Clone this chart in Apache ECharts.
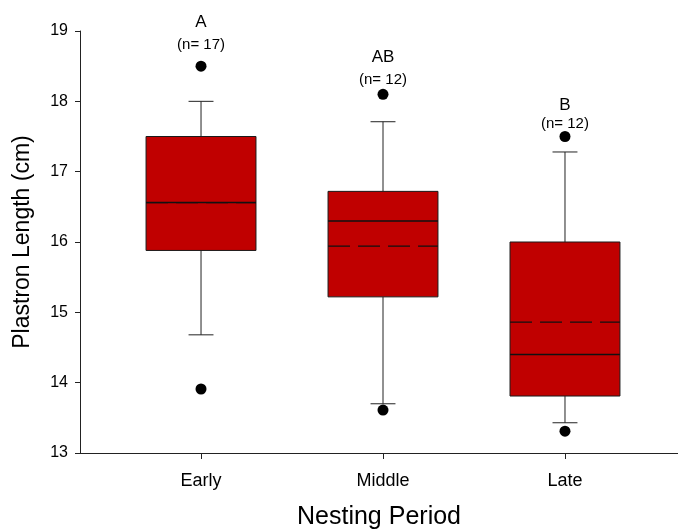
<!DOCTYPE html>
<html>
<head>
<meta charset="utf-8">
<script src="https://cdn.jsdelivr.net/npm/echarts@6/dist/echarts.min.js"></script>
<style>
html,body{margin:0;padding:0;background:#fff;}
#chart{width:678px;height:529px;}
</style>
</head>
<body>
<div id="chart"></div>
<script>
// ---- data ----
const categories = ['Early', 'Middle', 'Late'];
const categoryX = [1, 2, 3];
const whiskerLow = [14.68, 13.70, 13.43];
const q1 = [15.88, 15.22, 13.81];
const median = [16.56, 16.30, 14.40];
const q3 = [17.50, 16.72, 16.00];
const whiskerHigh = [18.00, 17.71, 17.28];
const mean = [16.56, 15.94, 14.86];
const outlierHigh = [18.50, 18.10, 17.50];
const outlierLow = [13.91, 13.61, 13.31];
const groupLetters = ['A', 'AB', 'B'];
const nCounts = [17, 12, 12];
const letterY = [19.13, 18.62, 17.95];
const nLabelY = [18.80, 18.30, 17.68];
const yTicks = [13, 14, 15, 16, 17, 18, 19];

const FONT = "'Liberation Sans', Arial, sans-serif";
const chart = echarts.init(document.getElementById('chart'));

const boxData = categoryX.map((x, i) => [x, whiskerLow[i], q1[i], median[i], q3[i], whiskerHigh[i], mean[i]]);
const outlierData = [];
categoryX.forEach((x, i) => { outlierData.push([x, outlierHigh[i]]); outlierData.push([x, outlierLow[i]]); });

function renderBox(params, api) {
  const x = api.value(0);
  const pLow = api.coord([x, api.value(1)]);
  const pQ1 = api.coord([x, api.value(2)]);
  const pMed = api.coord([x, api.value(3)]);
  const pQ3 = api.coord([x, api.value(4)]);
  const pHigh = api.coord([x, api.value(5)]);
  const pMean = api.coord([x, api.value(6)]);
  const boxW = api.size([0.604, 0])[0];
  const capW = api.size([0.137, 0])[0];
  const cx = pQ1[0];
  const lineStyle = { stroke: '#222', lineWidth: 1 };
  return {
    type: 'group',
    children: [
      { type: 'line', shape: { x1: cx, y1: pQ3[1], x2: cx, y2: pHigh[1] }, style: lineStyle },
      { type: 'line', shape: { x1: cx, y1: pQ1[1], x2: cx, y2: pLow[1] }, style: lineStyle },
      { type: 'line', shape: { x1: cx - capW / 2, y1: pHigh[1], x2: cx + capW / 2, y2: pHigh[1] }, style: lineStyle },
      { type: 'line', shape: { x1: cx - capW / 2, y1: pLow[1], x2: cx + capW / 2, y2: pLow[1] }, style: lineStyle },
      { type: 'rect', shape: { x: cx - boxW / 2, y: pQ3[1], width: boxW, height: pQ1[1] - pQ3[1] },
        style: { fill: '#c00000', stroke: '#1a1a1a', lineWidth: 1 } },
      { type: 'line', shape: { x1: cx - boxW / 2, y1: pMean[1], x2: cx + boxW / 2, y2: pMean[1] },
        style: { stroke: '#111', lineWidth: 1.3, lineDash: [22, 8] } },
      { type: 'line', shape: { x1: cx - boxW / 2, y1: pMed[1], x2: cx + boxW / 2, y2: pMed[1] },
        style: { stroke: '#111', lineWidth: 1.5 } }
    ]
  };
}

const option = {
  backgroundColor: '#fff',
  animation: false,
  grid: { left: 80, right: 0, top: 31, bottom: 76, containLabel: false, outerBoundsMode: 'none' },
  xAxis: {
    type: 'value',
    min: 0.335,
    max: 3.621,
    name: 'Nesting Period',
    nameLocation: 'middle',
    nameGap: 52,
    nameTextStyle: { fontFamily: FONT, fontSize: 25, color: '#000' },
    axisLine: { show: true, lineStyle: { color: '#222', width: 1 } },
    axisTick: { show: true, length: 6, customValues: categoryX, lineStyle: { color: '#222' } },
    axisLabel: {
      customValues: categoryX,
      margin: 19,
      fontFamily: FONT, fontSize: 18, color: '#000',
      formatter: v => categories[categoryX.indexOf(Math.round(v))] || ''
    },
    splitLine: { show: false }
  },
  yAxis: {
    type: 'value',
    min: 13,
    max: 19,
    interval: 1,
    name: 'Plastron Length (cm)',
    nameLocation: 'middle',
    nameGap: 46,
    nameTextStyle: { fontFamily: FONT, fontSize: 23, color: '#000' },
    axisLine: { show: true, lineStyle: { color: '#222', width: 1 } },
    axisTick: { show: true, length: 5, lineStyle: { color: '#222' } },
    axisLabel: {
      margin: 12, fontFamily: FONT, fontSize: 16, color: '#000',
      formatter: v => (yTicks.indexOf(v) >= 0 ? String(v) : '')
    },
    splitLine: { show: false }
  },
  series: [
    {
      type: 'custom',
      renderItem: renderBox,
      data: boxData,
      encode: { x: 0, y: [1, 2, 3, 4, 5, 6] },
      clip: false,
      z: 2
    },
    {
      type: 'scatter',
      data: outlierData,
      symbol: 'circle',
      symbolSize: 11,
      itemStyle: { color: '#000', opacity: 1 },
      z: 3
    },
    {
      type: 'scatter',
      data: categoryX.map((x, i) => [x, letterY[i]]),
      symbolSize: 0,
      clip: false,
      silent: true,
      itemStyle: { opacity: 1, color: '#000' },
      label: {
        show: true, position: 'inside',
        formatter: p => groupLetters[p.dataIndex],
        fontFamily: FONT, fontSize: 17, color: '#000', opacity: 1
      },
      z: 4
    },
    {
      type: 'scatter',
      data: categoryX.map((x, i) => [x, nLabelY[i]]),
      symbolSize: 0,
      clip: false,
      silent: true,
      itemStyle: { opacity: 1, color: '#000' },
      label: {
        show: true, position: 'inside',
        formatter: p => '(n= ' + nCounts[p.dataIndex] + ')',
        fontFamily: FONT, fontSize: 15, color: '#000', opacity: 1
      },
      z: 4
    }
  ]
};
chart.setOption(option);
</script>
</body>
</html>
